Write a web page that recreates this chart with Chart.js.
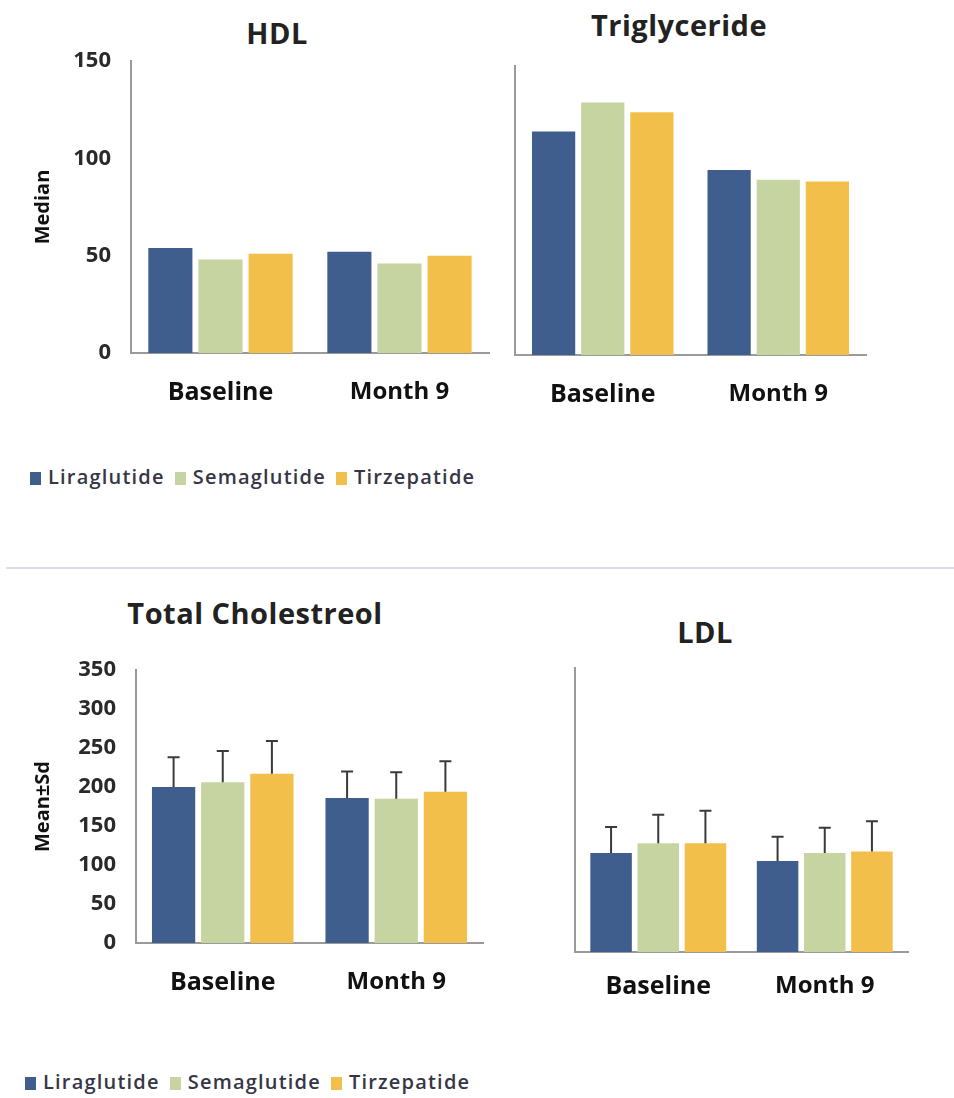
<!DOCTYPE html>
<html>
<head>
<meta charset="utf-8">
<script src="https://cdn.jsdelivr.net/npm/chart.js@4.4.0/dist/chart.umd.min.js"></script>
<style>
  body { margin: 0; background: #fff; width: 954px; height: 1098px; position: relative; overflow: hidden; font-family: "Open Sans", sans-serif; }
  canvas { position: absolute; }
  .title { position: absolute; font-weight: bold; font-size: 29px; letter-spacing: 0.5px; color: #222; transform: translateX(-50%); white-space: nowrap; line-height: 1; }
  .legend { position: absolute; font-size: 20px; font-weight: 600; color: #363646; letter-spacing: 1.2px; white-space: nowrap; line-height: 1; }
  .legend span.box { display: inline-block; width: 11px; height: 13px; margin-right: 7px; vertical-align: -1px; }
  .legend span.item { margin-right: 10px; }
  .divider { position: absolute; left: 6px; right: 0; top: 567px; height: 2px; background: #dcdde6; }
</style>
</head>
<body>

<div class="title" style="left:277px; top:18px;">HDL</div>
<div class="title" style="left:679px; top:10px;">Triglyceride</div>
<div class="title" style="left:255px; top:598px;">Total Cholestreol</div>
<div class="title" style="left:705px; top:617px;">LDL</div>

<canvas id="hdl" width="495" height="420" style="left:0; top:0;"></canvas>
<canvas id="trig" width="474" height="420" style="left:480px; top:0;"></canvas>
<div id="legendTop" class="legend" style="left:30px; top:467px;"></div>
<div class="divider"></div>
<canvas id="tc" width="490" height="460" style="left:0; top:560px;"></canvas>
<canvas id="ldl" width="474" height="460" style="left:480px; top:560px;"></canvas>
<div id="legendBottom" class="legend" style="left:25px; top:1072px;"></div>

<script>
const categories = ['Baseline', 'Month 9'];
const drugs = ['Liraglutide', 'Semaglutide', 'Tirzepatide'];
const drugColors = ['#3f5e8e', '#c5d4a0', '#f2c04a'];

// HDL (median)
const hdlLira = [54, 52];
const hdlSema = [48, 46];
const hdlTirz = [51, 50];

// Triglyceride (median)
const trigLira = [116, 96];
const trigSema = [131, 91];
const trigTirz = [126, 90];

// Total cholesterol (mean and sd)
const tcLira = [200, 186];
const tcSema = [206, 185];
const tcTirz = [217, 194];
const tcLiraSd = [38, 34];
const tcSemaSd = [40, 34];
const tcTirzSd = [42, 39];

// LDL (mean and sd)
const ldlLira = [122, 112];
const ldlSema = [134, 122];
const ldlTirz = [134, 124];
const ldlLiraSd = [32, 30];
const ldlSemaSd = [35, 31];
const ldlTirzSd = [40, 37];

const medianTicks = [0, 50, 100, 150];
const meanTicks = [0, 50, 100, 150, 200, 250, 300, 350];

// draws the +sd whiskers above each bar
const errorBars = {
    id: 'errorBars',
    afterDatasetsDraw(chart) {
        const ctx = chart.ctx;
        const y = chart.scales.y;
        chart.data.datasets.forEach((ds, i) => {
            if (!ds.sd) return;
            chart.getDatasetMeta(i).data.forEach((bar, j) => {
                const top = y.getPixelForValue(ds.data[j] + ds.sd[j]);
                ctx.save();
                ctx.strokeStyle = '#3a3a3a';
                ctx.lineWidth = 2;
                ctx.beginPath();
                ctx.moveTo(bar.x, bar.y);
                ctx.lineTo(bar.x, top);
                ctx.moveTo(bar.x - 6, top);
                ctx.lineTo(bar.x + 6, top);
                ctx.stroke();
                ctx.restore();
            });
        });
    }
};

function makeChart(id, series, sds, opts) {
    const datasets = series.map((values, i) => ({
        label: drugs[i],
        data: values,
        sd: sds ? sds[i] : null,
        backgroundColor: drugColors[i],
        categoryPercentage: opts.catPct,
        barPercentage: 0.88
    }));
    return new Chart(document.getElementById(id), {
        type: 'bar',
        data: { labels: categories, datasets: datasets },
        plugins: [errorBars],
        options: {
            responsive: false,
            animation: false,
            layout: { padding: opts.padding },
            plugins: { legend: { display: false }, tooltip: { enabled: false } },
            scales: {
                x: {
                    grid: { display: false, drawTicks: false },
                    border: { display: true, color: '#9a9a9a', width: 2 },
                    ticks: {
                        color: '#111',
                        padding: opts.xPad,
                        font: ctx => ({ family: 'Open Sans', weight: 'bold', size: ctx.index === 0 ? 25 : 24 })
                    },
                    afterFit: s => { s.height = opts.xHeight; }
                },
                y: {
                    min: 0,
                    max: opts.max,
                    grid: { display: false, drawTicks: false },
                    border: { display: true, color: '#9a9a9a', width: 2 },
                    afterBuildTicks: s => { s.ticks = opts.ticks.map(v => ({ value: v })); },
                    ticks: {
                        display: opts.showTicks,
                        color: '#2a2a2a',
                        padding: 20,
                        font: { family: 'Open Sans', weight: 'bold', size: 22 }
                    },
                    title: {
                        display: !!opts.yTitle,
                        text: opts.yTitle,
                        color: '#111',
                        font: { family: 'Open Sans', weight: 'bold', size: 20 },
                        padding: { top: 31 }
                    },
                    afterFit: s => { s.width = opts.yWidth; }
                }
            }
        }
    });
}

makeChart('hdl', [hdlLira, hdlSema, hdlTirz], null, {
    max: 150, ticks: medianTicks, showTicks: true, yTitle: 'Median',
    yWidth: 131, xHeight: 60, xPad: 25, catPct: 0.84,
    padding: { left: 0, right: 6, top: 61, bottom: 7 }
});

makeChart('trig', [trigLira, trigSema, trigTirz], null, {
    max: 150, ticks: medianTicks, showTicks: false, yTitle: '',
    yWidth: 35, xHeight: 60, xPad: 25, catPct: 0.84,
    padding: { left: 0, right: 88, top: 66, bottom: 5 }
});

makeChart('tc', [tcLira, tcSema, tcTirz], [tcLiraSd, tcSemaSd, tcTirzSd], {
    max: 350, ticks: meanTicks, showTicks: true, yTitle: 'Mean±Sd',
    yWidth: 136, xHeight: 60, xPad: 25, catPct: 0.85,
    padding: { left: 0, right: 7, top: 110, bottom: 17 }
});

makeChart('ldl', [ldlLira, ldlSema, ldlTirz], [ldlLiraSd, ldlSemaSd, ldlTirzSd], {
    max: 350, ticks: meanTicks, showTicks: false, yTitle: '',
    yWidth: 95, xHeight: 60, xPad: 20, catPct: 0.85,
    padding: { left: 0, right: 46, top: 108, bottom: 8 }
});

function buildLegend(id) {
    const el = document.getElementById(id);
    el.innerHTML = drugs.map((d, i) =>
        `<span class="item"><span class="box" style="background:${drugColors[i]}"></span>${d}</span>`
    ).join('');
}
buildLegend('legendTop');
buildLegend('legendBottom');
</script>
</body>
</html>
